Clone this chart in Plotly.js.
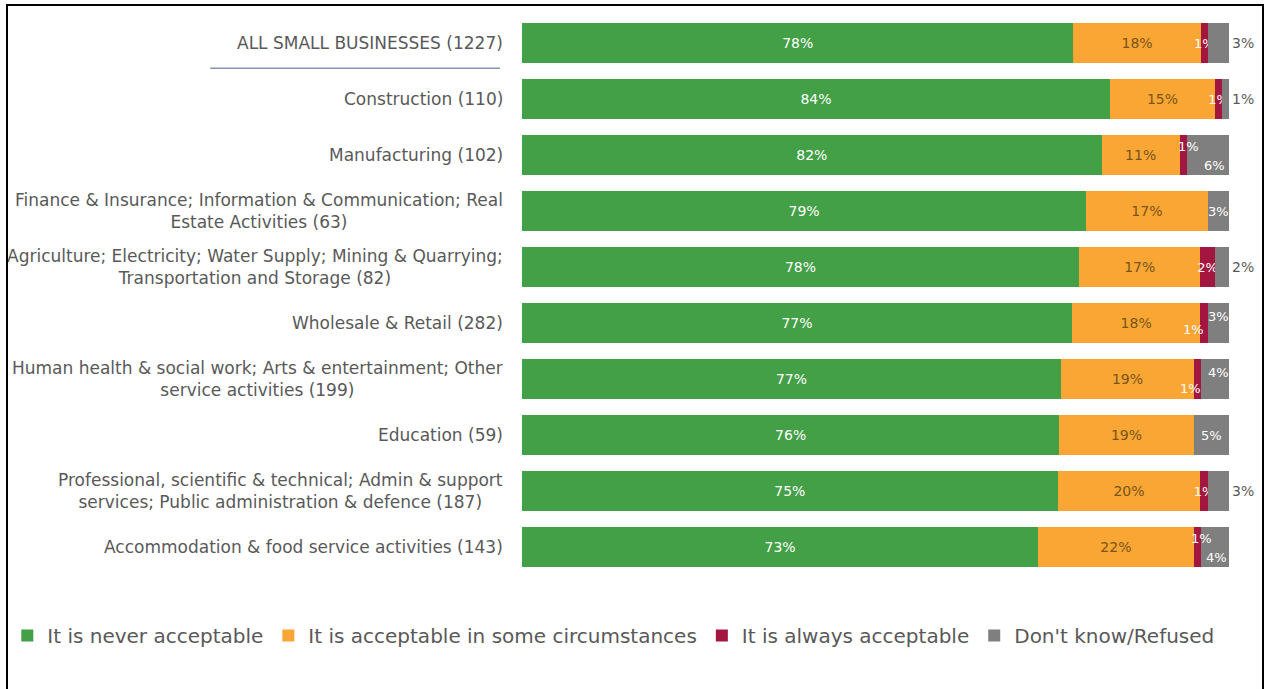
<!DOCTYPE html>
<html>
<head>
<meta charset="utf-8">
<script src="https://cdn.plot.ly/plotly-3.0.1.min.js"></script>
<style>
  html, body { margin: 0; padding: 0; background: #ffffff; }
  #wrap { position: relative; width: 1267px; height: 689px; overflow: hidden; }
  #chart { width: 1267px; height: 689px; }
  #frame { position: absolute; left: 6px; top: 4px; width: 1258px; height: 700px;
           border: 2px solid #000; box-sizing: border-box; pointer-events: none; }
</style>
</head>
<body>
<div id="wrap">
  <div id="chart"></div>
  <div id="frame"></div>
</div>
<script>
// ---- data (percent of respondents, as labelled) ----
const categories = [
  "ALL SMALL BUSINESSES (1227)",
  "Construction (110)",
  "Manufacturing (102)",
  "Finance & Insurance; Information & Communication; Real<br>Estate Activities (63)",
  "Agriculture; Electricity; Water Supply; Mining & Quarrying;<br>Transportation and Storage (82)",
  "Wholesale & Retail (282)",
  "Human health & social work; Arts & entertainment; Other<br>service activities (199)",
  "Education (59)",
  "Professional, scientific & technical; Admin & support<br>services; Public administration & defence (187)",
  "Accommodation & food service activities (143)"
];
const seriesNames = [
  "It is never acceptable",
  "It is acceptable in some circumstances",
  "It is always acceptable",
  "Don't know/Refused"
];
const neverAcceptable = [78, 84, 82, 79, 78, 77, 77, 76, 75, 73];
const sometimesAcceptable = [18, 15, 11, 17, 17, 18, 19, 19, 20, 22];
const alwaysAcceptable = [1, 1, 1, 0, 2, 1, 1, 0, 1, 1];
const dontKnow = [3, 1, 6, 3, 2, 3, 4, 5, 3, 4];

// ---- styling ----
const FONT = "DejaVu Sans, Arial, sans-serif";
const colors = ["#43a047", "#f9a634", "#a3163f", "#7f7f7f"];
const labelColors = ["#ffffff", "#7a5418", "#ffffff", "#ffffff"];
// gray labels placed outside the bar end
const dkOutside = [true, true, false, false, true, false, false, false, true, false];
// rows whose small labels were nudged apart: [xshift, yshift] in px for "always" and "don't know"
const nudges = {
  2: { always: [5, 9],  dk: [7, -10] },
  5: { always: [-11, -6], dk: [0, 7] },
  6: { always: [-7, -9], dk: [3, 7] },
  9: { always: [4, 9],  dk: [2, -10] }
};

const series = [neverAcceptable, sometimesAcceptable, alwaysAcceptable, dontKnow];
const pct = v => (v > 0 ? v + "%" : "");

const traces = series.map((vals, i) => {
  const nudged = i >= 2;
  const t = {
    type: "bar",
    orientation: "h",
    name: seriesNames[i],
    y: categories,
    x: vals,
    text: vals.map((v, r) => (nudged && nudges[r] ? "" : pct(v))),
    texttemplate: "%{text}",
    textposition: "inside",
    textangle: 0,
    insidetextanchor: "middle",
    constraintext: "none",
    cliponaxis: false,
    textfont: { family: FONT, size: nudged ? 13 : 14, color: labelColors[i] },
    insidetextfont: { family: FONT, size: nudged ? 13 : 14, color: labelColors[i] },
    marker: { color: colors[i], line: { width: 0 } },
    hoverinfo: "skip"
  };
  if (i === 3) {
    t.textposition = dkOutside.map(o => (o ? "outside" : "inside"));
    t.outsidetextfont = { family: FONT, size: 14, color: "#595959" };
  }
  return t;
});

const annotations = categories.map(c => ({
  xref: "paper", yref: "y", x: 0, y: c, xshift: -17,
  xanchor: "right", yanchor: "middle", align: "center",
  text: c, showarrow: false,
  font: { family: FONT, size: 17, color: "#595959" }
}));

// nudged small labels, positioned at their segment centres (in normalised % units)
Object.keys(nudges).forEach(k => {
  const r = +k;
  const total = neverAcceptable[r] + sometimesAcceptable[r] + alwaysAcceptable[r] + dontKnow[r];
  const startAlways = neverAcceptable[r] + sometimesAcceptable[r];
  const startDk = startAlways + alwaysAcceptable[r];
  const items = [
    { v: alwaysAcceptable[r], mid: (startAlways + alwaysAcceptable[r] / 2) / total * 100, s: nudges[r].always },
    { v: dontKnow[r], mid: (startDk + dontKnow[r] / 2) / total * 100, s: nudges[r].dk }
  ];
  items.forEach(it => {
    annotations.push({
      xref: "x", yref: "y", x: it.mid, y: categories[r],
      xshift: it.s[0], yshift: it.s[1], xanchor: "center", yanchor: "middle",
      text: pct(it.v), showarrow: false,
      font: { family: FONT, size: 13, color: "#ffffff" }
    });
  });
});

const layout = {
  width: 1267, height: 689,
  margin: { l: 522, r: 38, t: 15, b: 114, autoexpand: false },
  paper_bgcolor: "#ffffff", plot_bgcolor: "#ffffff",
  barmode: "stack",
  barnorm: "percent",
  bargap: 0.286,
  font: { family: FONT, color: "#595959" },
  xaxis: { range: [0, 100], showgrid: false, zeroline: false, showticklabels: false, showline: false, fixedrange: true },
  yaxis: { autorange: "reversed", showgrid: false, zeroline: false, showticklabels: false, showline: false, ticks: "", fixedrange: true },
  showlegend: true,
  legend: {
    orientation: "h", x: -0.728, xanchor: "left", y: -0.108, yanchor: "middle",
    font: { family: FONT, size: 20, color: "#595959" },
    itemwidth: 30, traceorder: "normal", itemclick: false, itemdoubleclick: false
  },
  annotations: annotations,
  shapes: [{
    type: "line", xref: "paper", yref: "y",
    x0: -0.441, x1: -0.031, y0: 0.45, y1: 0.45,
    line: { color: "#8497b0", width: 1.5 }
  }]
};

Plotly.newPlot("chart", traces, layout, { displayModeBar: false, staticPlot: true });
</script>
</body>
</html>
